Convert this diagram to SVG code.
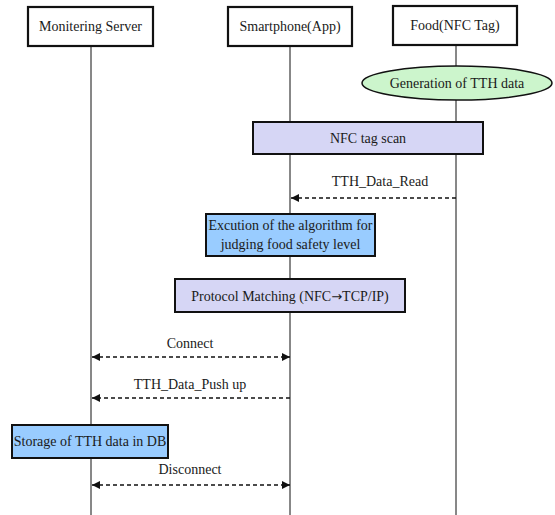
<svg xmlns="http://www.w3.org/2000/svg" width="555" height="515" viewBox="0 0 555 515">
<style>
text{font-family:"Liberation Serif","Times New Roman",serif;font-size:14px;fill:#1a1a1a;text-anchor:middle}
.arr{font-family:"DejaVu Sans",sans-serif;font-size:13px}
.hdr{fill:#fff;stroke:#111;stroke-width:2.2}
.life{stroke:#111;stroke-width:1;fill:none}
.lav{fill:#d6d6f5;stroke:#111;stroke-width:2}
.blue{fill:#99ccff;stroke:#111;stroke-width:2}
.msg{stroke:#111;stroke-width:1.3;stroke-dasharray:4 3;fill:none}
</style>
<defs>
<marker id="ah" viewBox="0 0 10 10" refX="10" refY="5" markerWidth="8" markerHeight="8" markerUnits="userSpaceOnUse" orient="auto-start-reverse">
<path d="M0,0 L10,5 L0,10 z" fill="#111"/>
</marker>
</defs>
<g id="lifelines">
<line class="life" x1="91" y1="46" x2="91" y2="515"/>
<line class="life" x1="290" y1="46" x2="290" y2="515"/>
<line class="life" x1="456" y1="45" x2="456" y2="515"/>
</g>
<g id="monitoring-server">
<rect class="hdr" x="28" y="7" width="125" height="39"/>
<text x="90.5" y="31">Monitering Server</text>
</g>
<g id="smartphone">
<rect class="hdr" x="228" y="7" width="124" height="39"/>
<text x="290" y="31">Smartphone(App)</text>
</g>
<g id="food">
<rect class="hdr" x="393" y="6" width="124" height="39"/>
<text x="455" y="30">Food(NFC Tag)</text>
</g>
<g id="generation">
<ellipse cx="457" cy="83" rx="95" ry="17" fill="#ccf5cc" stroke="#111" stroke-width="1.5"/>
<text x="457" y="88">Generation of TTH data</text>
</g>
<g id="nfc-scan">
<rect class="lav" x="253" y="122" width="230" height="32"/>
<text x="368" y="143">NFC tag scan</text>
</g>
<g id="execution">
<rect class="blue" x="206" y="214" width="169" height="42"/>
<text x="290.5" y="230">Excution of the algorithm for</text>
<text x="290.5" y="249">judging food safety level</text>
</g>
<g id="protocol">
<rect class="lav" x="175" y="279" width="230" height="33"/>
<text x="290" y="301">Protocol Matching (NFC<tspan class="arr">→</tspan>TCP/IP)</text>
</g>
<g id="storage">
<rect class="blue" x="12" y="425" width="156" height="33"/>
<text x="90" y="446">Storage of TTH data in DB</text>
</g>
<g id="connectors">
<line class="msg" x1="456" y1="198" x2="291" y2="198" marker-end="url(#ah)"/>
<text x="380" y="186">TTH_Data_Read</text>
<line class="msg" x1="92" y1="357" x2="290" y2="357" marker-start="url(#ah)" marker-end="url(#ah)"/>
<text x="190" y="348">Connect</text>
<line class="msg" x1="290" y1="398" x2="92" y2="398" marker-end="url(#ah)"/>
<text x="190" y="389">TTH_Data_Push up</text>
<line class="msg" x1="92" y1="485" x2="290" y2="485" marker-start="url(#ah)" marker-end="url(#ah)"/>
<text x="190" y="474">Disconnect</text>
</g>
</svg>
